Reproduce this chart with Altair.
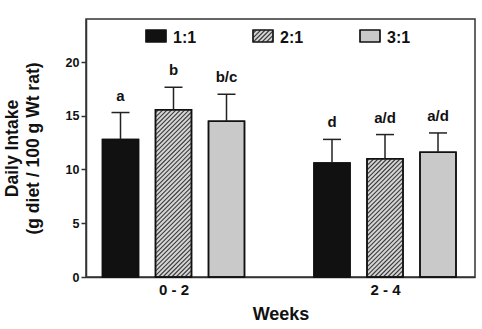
import altair as alt
import pandas as pd

# ---- data ----
groups = ["0 - 2", "2 - 4"]
series = ["1:1", "2:1", "3:1"]
means = {"1:1": [12.8, 10.6], "2:1": [15.55, 11.0], "3:1": [14.5, 11.6]}
sds = {"1:1": [2.5, 2.2], "2:1": [2.1, 2.25], "3:1": [2.5, 1.8]}
letters = {"1:1": ["a", "d"], "2:1": ["b", "a/d"], "3:1": ["b/c", "a/d"]}
y_ticks = [0, 5, 10, 15, 20]

# ---- layout / style ----
W, H = 389, 258
XMIN, XMAX = -0.4137, 1.4255
YMAX = 24
PXX = W / (XMAX - XMIN)
PXY = H / YMAX
FONT = "Liberation Sans"
fills = ["#111111", "#d6d6d6", "#c9c9c9"]
HATCHED = "2:1"
BAR_SPACING = 53 / PXX
BAR_HALF = 18 / PXX
CAP_HALF = 9 / PXX


def hatch(x0, x1, y0, y1, step=4.4):
    w = (x1 - x0) * PXX
    h = (y1 - y0) * PXY
    rows = []
    c = -w + step / 2
    while c < h:
        xs_ = max(0.0, -c)
        xe = min(w, h - c)
        if xe > xs_:
            rows.append(dict(x=x0 + xs_ / PXX, y=y0 + (xs_ + c) / PXY,
                             x2=x0 + xe / PXX, y2=y0 + (xe + c) / PXY))
        c += step
    return rows


bar_rows, hatch_rows = [], []
for gi, g in enumerate(groups):
    for si, s in enumerate(series):
        cx = gi + (si - 1) * BAR_SPACING
        m = means[s][gi]
        top = m + sds[s][gi]
        bar_rows.append(dict(series=s, group=g, cx=cx, x=cx - BAR_HALF, x2=cx + BAR_HALF,
                             y=0.0, y2=m, top=top, capL=cx - CAP_HALF, capR=cx + CAP_HALF,
                             letter=letters[s][gi]))
        if s == HATCHED:
            hatch_rows += hatch(cx - BAR_HALF, cx + BAR_HALF, 0.0, m)
bars = pd.DataFrame(bar_rows)

# legend (inside the plot, top)
leg_rows = []
for si, s in enumerate(series):
    px0 = 60 + si * 107
    x0, x1 = XMIN + px0 / PXX, XMIN + (px0 + 20) / PXX
    y0, y1 = YMAX - 23 / PXY, YMAX - 11 / PXY
    leg_rows.append(dict(series=s, x=x0, x2=x1, y=y0, y2=y1,
                         tx=XMIN + (px0 + 27) / PXX, ty=YMAX - 24 / PXY))
    if s == HATCHED:
        hatch_rows += hatch(x0, x1, y0, y1)
leg = pd.DataFrame(leg_rows)
hatches = pd.DataFrame(hatch_rows)

xs = alt.Scale(domain=[XMIN, XMAX], nice=False, zero=False)
ys = alt.Scale(domain=[0, YMAX], nice=False)
label_expr = " : ".join(f"datum.value == {i} ? '{g}'" for i, g in enumerate(groups)) + " : ''"
xaxis = alt.Axis(values=list(range(len(groups))), labelExpr=label_expr, ticks=False, grid=False,
                 title="Weeks", titleFontSize=18, titleY=42, titleBaseline="alphabetic",
                 labelFontSize=15, labelPadding=5, labelFlush=False)
yaxis = alt.Axis(values=y_ticks, grid=False, tickSize=5, labelFontSize=12.5, labelPadding=2,
                 title=["Daily Intake", "(g diet / 100 g Wt rat)"], titleAngle=270,
                 titleX=-69, titleY=H / 2, titleAlign="center", titleBaseline="alphabetic",
                 titleFontSize=17.5, titleLineHeight=21)
color = alt.Color("series:N", scale=alt.Scale(domain=series, range=fills), legend=None)

X = lambda f: alt.X(f, type="quantitative", scale=xs, axis=xaxis)
Y = lambda f: alt.Y(f, type="quantitative", scale=ys, axis=yaxis)

base = alt.Chart(bars)
bar_fill = base.mark_rect(stroke="#111111", strokeWidth=1.5).encode(
    x=X("x"), x2="x2", y=Y("y"), y2="y2", color=color)
err = base.mark_rule(color="#222222", strokeWidth=1.5).encode(
    x=X("cx"), y=Y("y2"), y2="top")
cap = base.mark_rule(color="#222222", strokeWidth=1.5).encode(
    x=X("capL"), x2="capR", y=Y("top"))
txt = base.mark_text(dy=-12, fontSize=15, fontWeight="bold", font=FONT,
                     baseline="alphabetic", color="#111111").encode(
    x=X("cx"), y=Y("top"), text="letter:N")

lbase = alt.Chart(leg)
leg_fill = lbase.mark_rect(stroke="#111111", strokeWidth=1.2).encode(
    x=X("x"), x2="x2", y=Y("y"), y2="y2", color=color)
leg_outline = lbase.mark_rect(fill="transparent", stroke="#111111", strokeWidth=1.2).encode(
    x=X("x"), x2="x2", y=Y("y"), y2="y2")
leg_text = lbase.mark_text(align="left", baseline="alphabetic", fontSize=16,
                           fontWeight="bold", font=FONT, color="#111111").encode(
    x=X("tx"), y=Y("ty"), text="series:N")

hatch_layer = alt.Chart(hatches).mark_rule(color="#3a3a3a", strokeWidth=1.1).encode(
    x=X("x"), x2="x2", y=Y("y"), y2="y2")
outline = base.mark_rect(fill="transparent", stroke="#111111", strokeWidth=1.5).encode(
    x=X("x"), x2="x2", y=Y("y"), y2="y2")

chart = alt.layer(bar_fill, leg_fill, hatch_layer, outline, leg_outline, err, cap, txt,
                  leg_text).properties(
    width=W, height=H,
    autosize=alt.AutoSizeParams(type="none"),
    padding={"left": 86, "top": 19, "right": 7, "bottom": 52},
    background="white",
).configure_view(stroke="#333333", strokeWidth=1.5).configure_axis(
    labelFont=FONT, titleFont=FONT, labelFontWeight="bold", titleFontWeight="bold",
    labelColor="#111111", titleColor="#111111", domainColor="#333333",
    tickColor="#333333", domainWidth=1.5, tickWidth=1.5)

chart.save("out.html", embed_options={"renderer": "svg", "actions": False})
